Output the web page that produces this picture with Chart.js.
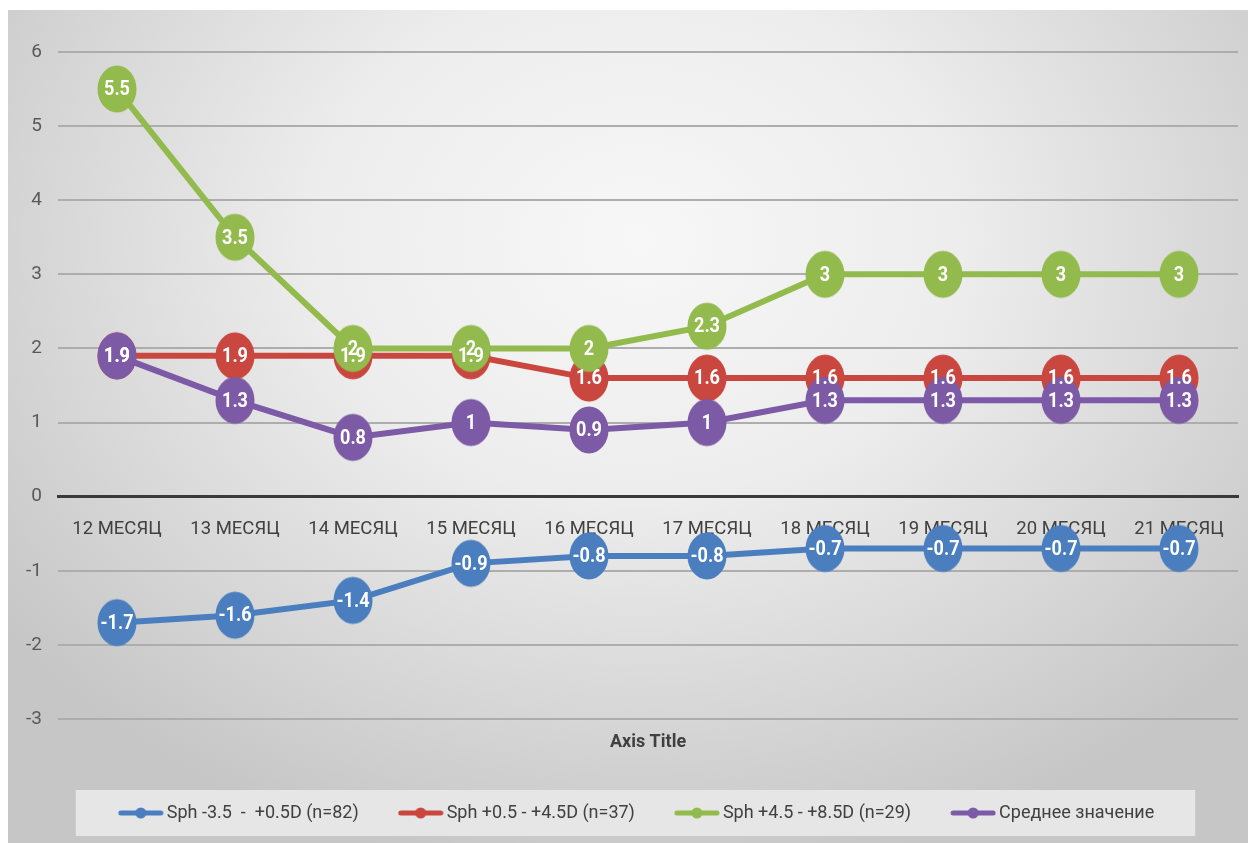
<!DOCTYPE html>
<html lang="ru">
<head>
<meta charset="utf-8">
<title>Sph по месяцам</title>
<script src="https://cdn.jsdelivr.net/npm/chart.js@4/dist/chart.umd.min.js"></script>
<style>
  html, body { margin: 0; padding: 0; background: #ffffff; }
  #wrap { position: absolute; left: 8px; top: 10px; width: 1240px; height: 833px; }
</style>
</head>
<body>
<div id="wrap"><canvas id="chart"></canvas></div>
<script>
// Categories (months of follow-up)
const months = ['12 МЕСЯЦ', '13 МЕСЯЦ', '14 МЕСЯЦ', '15 МЕСЯЦ', '16 МЕСЯЦ',
                '17 МЕСЯЦ', '18 МЕСЯЦ', '19 МЕСЯЦ', '20 МЕСЯЦ', '21 МЕСЯЦ'];

// Series values
const sphMinus = [-1.7, -1.6, -1.4, -0.9, -0.8, -0.8, -0.7, -0.7, -0.7, -0.7];
const sphLow   = [1.9, 1.9, 1.9, 1.9, 1.6, 1.6, 1.6, 1.6, 1.6, 1.6];
const sphHigh  = [5.5, 3.5, 2, 2, 2, 2.3, 3, 3, 3, 3];
const average  = [1.9, 1.3, 0.8, 1, 0.9, 1, 1.3, 1.3, 1.3, 1.3];

// Series names
const seriesNames = ['Sph -3.5  -  +0.5D (n=82)', 'Sph +0.5 - +4.5D (n=37)',
                     'Sph +4.5 - +8.5D (n=29)', 'Среднее значение'];

// Value axis range
const yMin = -3, yMax = 6, yStep = 1;
const xAxisTitle = 'Axis Title';

const FONT = "Roboto, 'DejaVu Sans Condensed', sans-serif";
const COLORS = ['#4a7ebf', '#c9473f', '#92ba4c', '#7c5aa6'];
const LEGEND_SHIFT = 16;   // legend row sits slightly right of centre

// Elliptical marker drawn once per colour
function ellipseMarker(color) {
  const c = document.createElement('canvas');
  c.width = 42; c.height = 50;
  const g = c.getContext('2d');
  g.fillStyle = color;
  g.beginPath();
  g.ellipse(21, 25, 19.5, 23.5, 0, 0, Math.PI * 2);
  g.fill();
  return c;
}

// Legend symbol: line with a small dot in the middle
function legendSymbol(color) {
  const c = document.createElement('canvas');
  c.width = 46; c.height = 14;
  const g = c.getContext('2d');
  g.strokeStyle = color;
  g.lineWidth = 5;
  g.lineCap = 'round';
  g.beginPath(); g.moveTo(3, 7); g.lineTo(43, 7); g.stroke();
  g.fillStyle = color;
  g.beginPath(); g.arc(23, 7, 5.5, 0, Math.PI * 2); g.fill();
  return c;
}

const seriesValues = [sphMinus, sphLow, sphHigh, average];

const datasets = seriesValues.map((vals, i) => ({
  label: seriesNames[i],
  data: vals,
  borderColor: COLORS[i],
  backgroundColor: COLORS[i],
  borderWidth: 6,
  pointStyle: ellipseMarker(COLORS[i]),
  pointRadius: 2,
  pointHoverRadius: 2,
  pointBorderWidth: 0,
  tension: 0,
  order: seriesValues.length - i   // later series painted on top
}));

// Moves the legend row sideways once the layout is done
const legendOffsetPlugin = {
  id: 'legendOffset',
  afterUpdate(chart) {
    const lg = chart.legend;
    if (!lg) return;
    lg.left += LEGEND_SHIFT;
    lg.right += LEGEND_SHIFT;
    (lg.legendHitBoxes || []).forEach(b => { b.left += LEGEND_SHIFT; });
  }
};

// Radial background and the legend panel
const backgroundPlugin = {
  id: 'background',
  beforeDraw(chart) {
    const { ctx, width, height } = chart;
    ctx.save();
    ctx.translate(630, 230);
    ctx.scale(1, 0.8);
    const g = ctx.createRadialGradient(0, 0, 0, 0, 0, 800);
    g.addColorStop(0, '#f7f7f7');
    g.addColorStop(0.4, '#ededed');
    g.addColorStop(1, '#c6c6c6');
    ctx.fillStyle = g;
    ctx.fillRect(-700, -400, width + 200, (height + 600) / 0.8);
    ctx.restore();

    const boxes = chart.legend && chart.legend.legendHitBoxes;
    if (boxes && boxes.length) {
      const first = boxes[0], last = boxes[boxes.length - 1];
      const cy = first.top + first.height / 2;
      const x0 = first.left - 48;
      const x1 = last.left + last.width + 41;
      ctx.save();
      ctx.fillStyle = '#e6e6e6';
      ctx.fillRect(x0, cy - 23, x1 - x0, 46);
      ctx.restore();
    }
  }
};

// Value labels inside the markers
const valueLabelPlugin = {
  id: 'valueLabels',
  afterDatasetsDraw(chart) {
    const ctx = chart.ctx;
    ctx.save();
    ctx.font = "bold 21px " + FONT;
    ctx.fillStyle = '#ffffff';
    ctx.textAlign = 'center';
    ctx.textBaseline = 'middle';
    chart.data.datasets.forEach((ds, i) => {
      const meta = chart.getDatasetMeta(i);
      meta.data.forEach((pt, j) => {
        ctx.save();
        ctx.translate(pt.x, pt.y + 1);
        ctx.scale(0.86, 1);
        ctx.fillText(String(ds.data[j]), 0, 0);
        ctx.restore();
      });
    });
    ctx.restore();
  }
};

function noSidePadding(scale) {
  scale.paddingLeft = 0;
  scale.paddingRight = 0;
}

new Chart(document.getElementById('chart'), {
  type: 'line',
  data: { labels: months, datasets },
  plugins: [legendOffsetPlugin, backgroundPlugin, valueLabelPlugin],
  options: {
    responsive: true,
    maintainAspectRatio: false,
    animation: false,
    layout: { padding: { top: 42, right: 10, left: 0, bottom: 11 } },
    plugins: {
      tooltip: { enabled: false },
      legend: {
        position: 'bottom',
        labels: {
          usePointStyle: true,
          pointStyleWidth: 34,
          padding: 45,
          color: '#404040',
          font: { family: FONT, size: 18 },
          generateLabels(chart) {
            return chart.data.datasets.map((ds, i) => ({
              text: ds.label,
              pointStyle: legendSymbol(COLORS[i]),
              fillStyle: COLORS[i],
              strokeStyle: COLORS[i],
              lineWidth: 0,
              fontColor: '#404040',
              hidden: false,
              datasetIndex: i
            }));
          }
        }
      }
    },
    scales: {
      x: {
        type: 'category',
        position: { y: 0 },
        offset: true,
        grid: { display: false, drawTicks: false },
        border: { display: true, color: '#3a3a3a', width: 3 },
        ticks: { color: '#404040', padding: 22, font: { family: FONT, size: 18.5 }, maxRotation: 0, autoSkip: false },
        afterFit: noSidePadding
      },
      x2: {
        type: 'category',
        position: 'bottom',
        offset: true,
        grid: { display: false, drawTicks: false },
        border: { display: false },
        ticks: { display: false },
        title: {
          display: true,
          text: xAxisTitle,
          color: '#404040',
          font: { family: FONT, size: 18, weight: 'bold' },
          padding: { top: 4, bottom: 6 }
        },
        afterFit(scale) { scale.height = 40; noSidePadding(scale); }
      },
      y: {
        min: yMin,
        max: yMax,
        ticks: { stepSize: yStep, color: '#595959', padding: 16, font: { family: FONT, size: 19 } },
        grid: { color: '#adadad', lineWidth: 2, drawTicks: false },
        border: { display: false },
        afterFit(scale) { scale.width = 50; }
      }
    }
  }
});
</script>
</body>
</html>
